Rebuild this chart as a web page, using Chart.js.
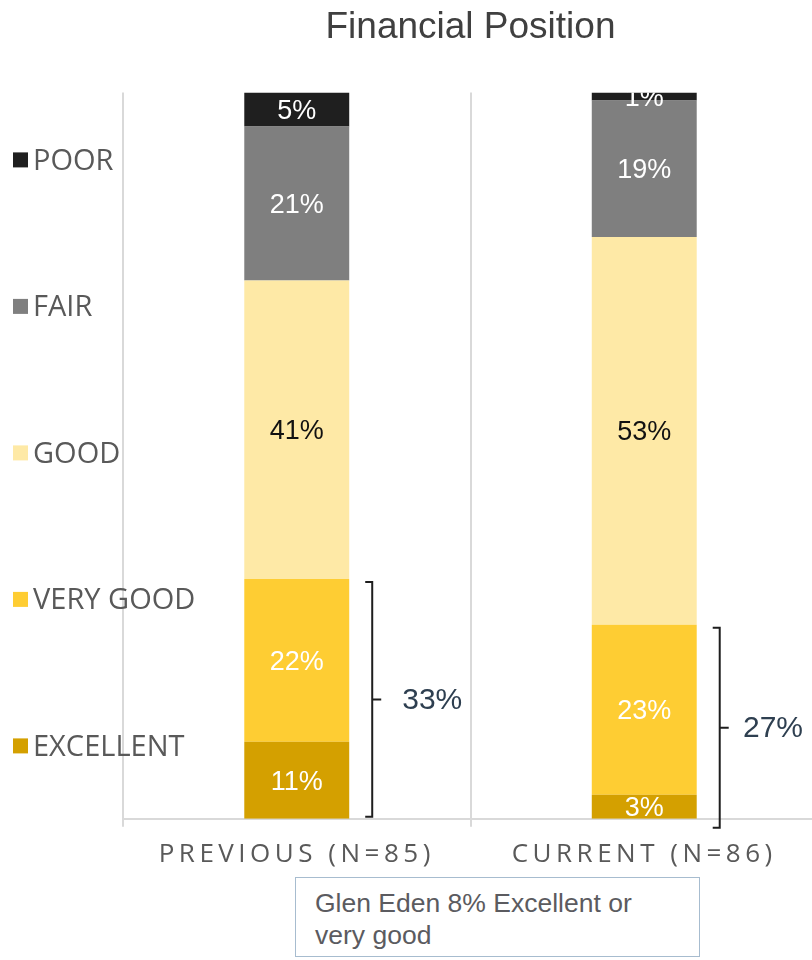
<!DOCTYPE html>
<html>
<head>
<meta charset="utf-8">
<script src="https://cdn.jsdelivr.net/npm/chart.js@4/dist/chart.umd.min.js"></script>
<style>
    body { margin: 0; background: #fff; }
    #wrap { position: relative; width: 812px; height: 960px; overflow: hidden; }
    #note {
        position: absolute; left: 295px; top: 877px; width: 366px; height: 60px;
        padding: 9px 18px 9px 19px; border: 1.5px solid #a7bccf; background: #fff;
        font: 26.5px "Liberation Sans", Arial, sans-serif; line-height: 32px; color: #5b5b60;
    }
</style>
</head>
<body>
<div id="wrap">
    <canvas id="chart" width="818" height="960"></canvas>
    <div id="note">Glen Eden 8% Excellent or very good</div>
</div>
<script>
'use strict';

var categories = ['PREVIOUS (N=85)', 'CURRENT (N=86)'];
// stacked bottom to top
var seriesNames = ['EXCELLENT', 'VERY GOOD', 'GOOD', 'FAIR', 'POOR'];
var excellent = [10.6, 3.3];
var veryGood = [22.4, 23.4];
var good = [41.1, 53.4];
var fair = [21.2, 18.8];
var poor = [4.7, 1.1];

var colors = ['#d4a000', '#fecd33', '#fee9a6', '#7f7f7f', '#1f1f1f'];
var labelColors = ['#fff', '#fff', '#111', '#fff', '#fff'];
var bracketDrop = [-2, 9];
var visibleWidth = 812;

var seriesValues = [excellent, veryGood, good, fair, poor];

var datasets = [];
for (var i = 0; i < seriesNames.length; i++) {
    datasets.push({
        label: seriesNames[i],
        data: seriesValues[i],
        backgroundColor: colors[i],
        borderWidth: 0,
        barPercentage: 0.302,
        categoryPercentage: 1
    });
}

var pct = function(v) {
    return Math.round(v) + '%';
};

var overlay = {
    id: 'overlay',
    afterDatasetsDraw: function(chart) {
        // spaced-out letters for the category labels drawn next
        chart.ctx.letterSpacing = '4.5px';
    },
    afterDraw: function(chart) {
        var ctx = chart.ctx;
        var area = chart.chartArea;
        var yScale = chart.scales.y;
        ctx.save();
        ctx.letterSpacing = '0px';

        // segment labels, clipped to the plot
        ctx.save();
        ctx.beginPath();
        ctx.rect(area.left, area.top, area.right - area.left, area.bottom - area.top);
        ctx.clip();
        ctx.font = '27px "Liberation Sans", Arial, sans-serif';
        ctx.textAlign = 'center';
        ctx.textBaseline = 'middle';
        chart.data.datasets.forEach(function(ds, d) {
            chart.getDatasetMeta(d).data.forEach(function(bar, k) {
                ctx.fillStyle = labelColors[d];
                ctx.fillText(pct(ds.data[k]), bar.x, (bar.y + bar.base) / 2 + 2);
            });
        });
        ctx.restore();

        // legend down the left side, top series first
        ctx.font = '29px "Open Sans", sans-serif';
        ctx.textAlign = 'left';
        ctx.textBaseline = 'middle';
        for (var n = 0; n < seriesNames.length; n++) {
            var s = seriesNames.length - 1 - n;
            var ly = area.top + 67 + n * 146.5;
            ctx.fillStyle = colors[s];
            ctx.fillRect(13, ly - 7, 15, 15);
            ctx.fillStyle = '#595959';
            ctx.fillText(seriesNames[s], 33, ly + 2);
        }

        // brackets over excellent + very good
        var metaTop = chart.getDatasetMeta(1);
        ctx.strokeStyle = '#1e1e1e';
        ctx.lineWidth = 2;
        ctx.font = '30px "Liberation Sans", Arial, sans-serif';
        for (var b = 0; b < categories.length; b++) {
            var el = metaTop.data[b];
            var bx = el.x + el.width / 2 + 23;
            var top = el.y + 3;
            var bottom = yScale.getPixelForValue(0) + bracketDrop[b];
            var mid = (top + bottom) / 2;
            ctx.beginPath();
            ctx.moveTo(bx - 7, top);
            ctx.lineTo(bx, top);
            ctx.lineTo(bx, bottom);
            ctx.lineTo(bx - 7, bottom);
            ctx.moveTo(bx, mid);
            ctx.lineTo(bx + 9, mid);
            ctx.stroke();
            var txt = pct(excellent[b] + veryGood[b]);
            var tx = Math.min(bx + 30, visibleWidth - 9 - ctx.measureText(txt).width);
            ctx.fillStyle = '#2e3f50';
            ctx.fillText(txt, tx, mid + 1);
        }
        ctx.restore();
    }
};

new Chart(document.getElementById('chart'), {
    type: 'bar',
    data: {
        labels: categories,
        datasets: datasets
    },
    options: {
        responsive: false,
        animation: false,
        events: [],
        layout: {
            padding: { left: 123, right: 0, top: 0, bottom: 78 }
        },
        plugins: {
            legend: { display: false },
            tooltip: { enabled: false },
            title: {
                display: true,
                text: 'Financial Position',
                color: '#404040',
                font: { family: '"Liberation Sans", Arial, sans-serif', size: 37, weight: 'normal' },
                padding: { top: 6, bottom: 42 }
            }
        },
        scales: {
            x: {
                stacked: true,
                grid: { offset: true, color: '#d9d9d9', lineWidth: 2, tickLength: 8 },
                border: { color: '#d9d9d9', width: 2 },
                ticks: {
                    z: 1,
                    padding: 12,
                    color: '#595959',
                    font: { family: '"Open Sans", sans-serif', size: 26 }
                }
            },
            y: {
                stacked: true,
                display: false,
                min: 0,
                max: 100
            }
        }
    },
    plugins: [overlay]
});
</script>
</body>
</html>
